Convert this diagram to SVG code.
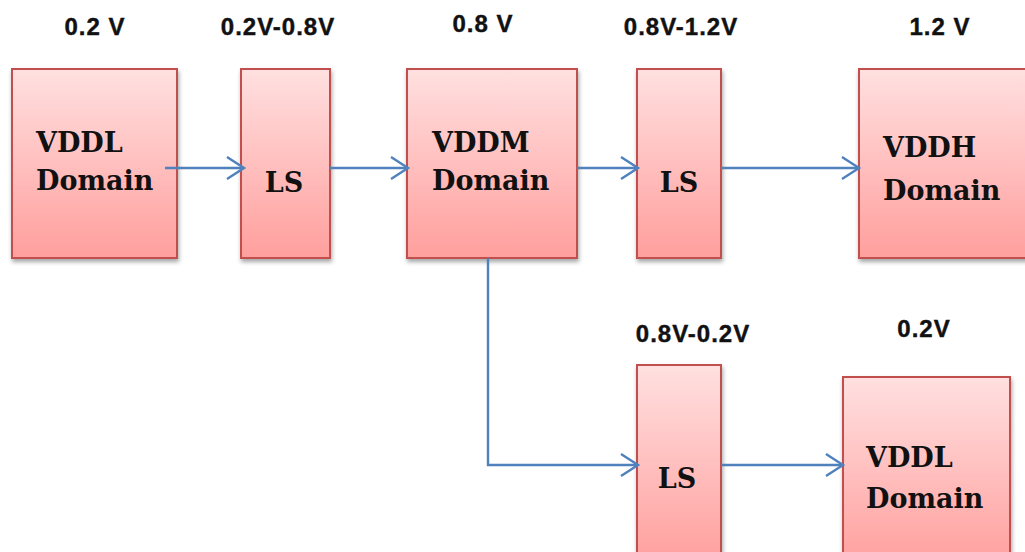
<svg xmlns="http://www.w3.org/2000/svg" width="1025" height="552" viewBox="0 0 1025 552">
<defs>
<linearGradient id="g" x1="0" y1="0" x2="0" y2="1">
<stop offset="0" stop-color="#ffe0e0"/>
<stop offset="1" stop-color="#ff9f9d"/>
</linearGradient>
<filter id="sh" x="-10%" y="-10%" width="130%" height="130%">
<feDropShadow dx="1" dy="3" stdDeviation="2" flood-color="#000" flood-opacity="0.35"/>
</filter>
<marker id="ar" markerWidth="22" markerHeight="26" refX="18" refY="12" orient="auto" markerUnits="userSpaceOnUse">
<path d="M1,1 L18,12 L1,23" fill="none" stroke="#4f81bd" stroke-width="2.4"/>
</marker>
</defs>
<style>
.box{fill:url(#g);stroke:#c0504d;stroke-width:2;filter:url(#sh)}
.lbl{font-family:"Liberation Sans",Arial,sans-serif;font-weight:bold;font-size:24px;fill:#111;text-anchor:middle;stroke:#111;stroke-width:0.4}
.t{font-family:"DejaVu Serif","Liberation Serif",serif;font-weight:bold;font-size:27px;fill:#111}
.c{text-anchor:middle}
.ln{fill:none;stroke:#4f81bd;stroke-width:2.4}
</style>
<rect width="1025" height="552" fill="#fff"/>
<g id="labels">
<text class="lbl" x="95" y="35" letter-spacing="1">0.2 V</text>
<text class="lbl" x="278" y="35" letter-spacing="1">0.2V-0.8V</text>
<text class="lbl" x="483" y="32" letter-spacing="1">0.8 V</text>
<text class="lbl" x="681" y="35" letter-spacing="1">0.8V-1.2V</text>
<text class="lbl" x="940" y="35" letter-spacing="1">1.2 V</text>
<text class="lbl" x="693" y="342" letter-spacing="1">0.8V-0.2V</text>
<text class="lbl" x="924" y="337" letter-spacing="1">0.2V</text>
</g>
<g id="n1"><rect class="box" x="12" y="69" width="165" height="189"/>
<text class="t" x="36" y="152">VDDL</text><text class="t" x="36" y="190">Domain</text></g>
<g id="n2"><rect class="box" x="241" y="69" width="89" height="189"/>
<text class="t c" x="284" y="192">LS</text></g>
<g id="n3"><rect class="box" x="407" y="69" width="170" height="189"/>
<text class="t" x="432" y="152">VDDM</text><text class="t" x="432" y="190">Domain</text></g>
<g id="n4"><rect class="box" x="637" y="69" width="84" height="189"/>
<text class="t c" x="679" y="192">LS</text></g>
<g id="n5"><rect class="box" x="859" y="69" width="175" height="189"/>
<text class="t" x="883" y="157">VDDH</text><text class="t" x="883" y="200">Domain</text></g>
<g id="n6"><rect class="box" x="637" y="365" width="84" height="200"/>
<text class="t c" x="677" y="488">LS</text></g>
<g id="n7"><rect class="box" x="843" y="377" width="167" height="190"/>
<text class="t" x="866" y="467">VDDL</text><text class="t" x="866" y="508">Domain</text></g>
<g id="connectors">
<path class="ln" d="M165,168 H244" marker-end="url(#ar)"/>
<path class="ln" d="M330,168 H408" marker-end="url(#ar)"/>
<path class="ln" d="M577,168 H638" marker-end="url(#ar)"/>
<path class="ln" d="M721,168 H859" marker-end="url(#ar)"/>
<path class="ln" d="M488,258 V465 H638" marker-end="url(#ar)"/>
<path class="ln" d="M721,465 H843" marker-end="url(#ar)"/>
</g>
</svg>
